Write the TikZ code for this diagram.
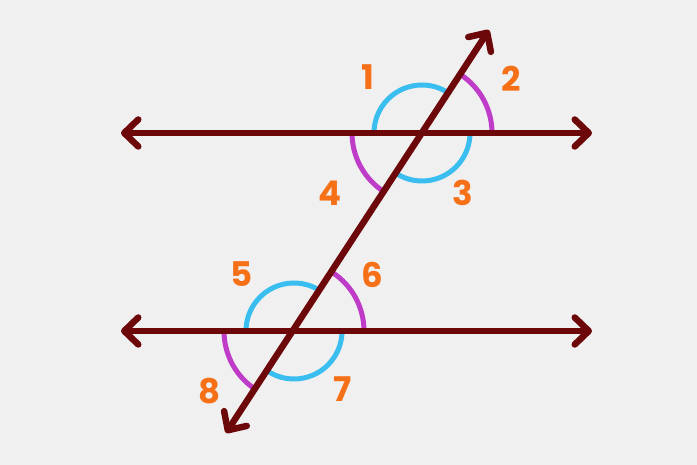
\documentclass[tikz,border=0pt]{standalone}
\usepackage{fontspec}
\setmainfont{Poppins}
\usetikzlibrary{arrows.meta}
\definecolor{bgc}{RGB}{240,240,240}
\definecolor{maroon}{RGB}{108,8,10}
\definecolor{cyanc}{RGB}{58,190,240}
\definecolor{magc}{RGB}{190,60,200}
\definecolor{orangec}{RGB}{246,112,24}
\tikzset{
  mainline/.style={draw=maroon, line width=6.5pt, line cap=round,
    {Straight Barb[length=14pt 0, width=27pt 0, line cap=round, line join=round]}-{Straight Barb[length=14pt 0, width=27pt 0, line cap=round, line join=round]}},
  cyanarc/.style={draw=cyanc, line width=5pt},
  magarc/.style={draw=magc, line width=5pt},
  num/.style={text=orangec, font=\fontsize{34}{34}\selectfont\bfseries, inner sep=0pt}
}
\begin{document}
\begin{tikzpicture}[x=1pt,y=1pt]
\fill[bgc] (0,0) rectangle (697,465);
\useasboundingbox (0,0) rectangle (697,465);
% intersections
\coordinate (O1) at (422,332);
\coordinate (O2) at (294,134);
% line ends
\coordinate (TL) at (121,332);
\coordinate (TR) at (592,332);
\coordinate (BL) at (121,134);
\coordinate (BR) at (592,134);
\coordinate (UP) at (489,435);
\coordinate (DN) at (226,32);
% arcs top
\draw[cyanarc] ([shift={(57.1:48)}]O1) arc[start angle=57.1, end angle=180, radius=48];
\draw[cyanarc] ([shift={(237.1:48)}]O1) arc[start angle=237.1, end angle=360, radius=48];
\draw[magarc] ([shift={(0:70)}]O1) arc[start angle=0, end angle=57.1, radius=70];
\draw[magarc] ([shift={(180:70)}]O1) arc[start angle=180, end angle=237.1, radius=70];
% arcs bottom
\draw[cyanarc] ([shift={(57.1:48)}]O2) arc[start angle=57.1, end angle=180, radius=48];
\draw[cyanarc] ([shift={(237.1:48)}]O2) arc[start angle=237.1, end angle=360, radius=48];
\draw[magarc] ([shift={(0:70)}]O2) arc[start angle=0, end angle=57.1, radius=70];
\draw[magarc] ([shift={(180:70)}]O2) arc[start angle=180, end angle=237.1, radius=70];
% lines
\draw[mainline] (TL) -- (TR);
\draw[mainline] (BL) -- (BR);
\draw[mainline] (DN) -- (UP);
% labels
\node[num] (n1) at (368,388) {1};
\node[num] (n2) at (511,386) {2};
\node[num] (n3) at (463,272) {3};
\node[num] (n4) at (330,272) {4};
\node[num] (n5) at (242,191) {5};
\node[num] (n6) at (372,190) {6};
\node[num] (n7) at (343,76) {7};
\node[num] (n8) at (210,74) {8};
\end{tikzpicture}
\end{document}
